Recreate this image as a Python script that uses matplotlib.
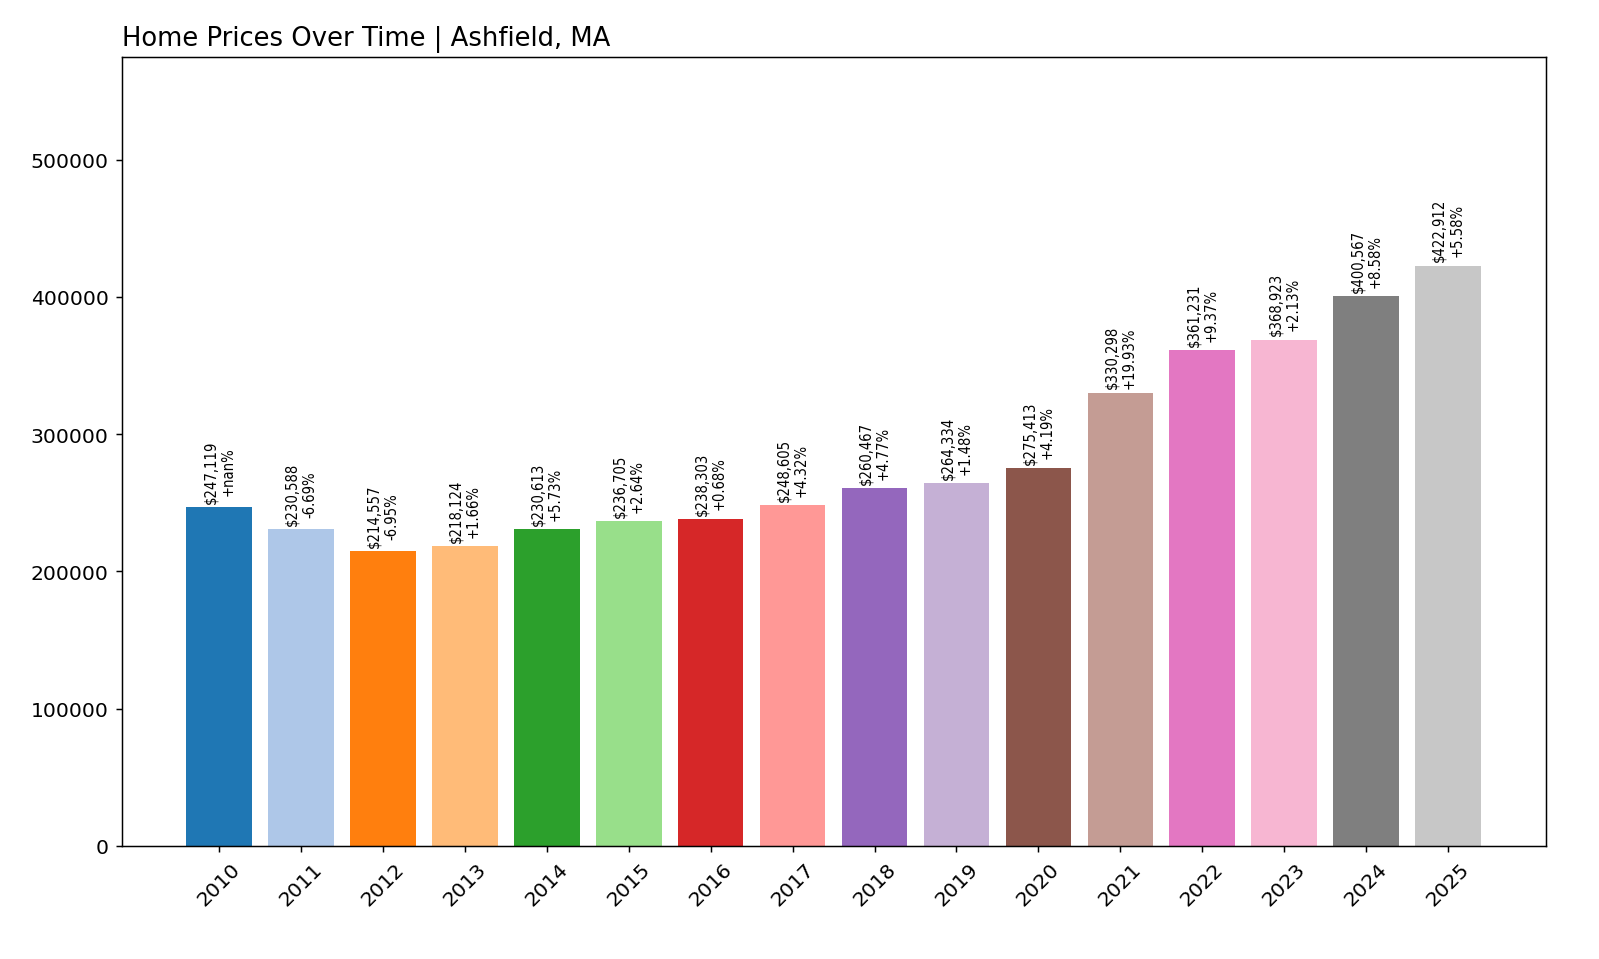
import matplotlib
matplotlib.use("Agg")
import matplotlib.pyplot as plt

years = [str(y) for y in range(2010, 2026)]
prices = [247119, 230588, 214557, 218124, 230613, 236705, 238303, 248605,
          260467, 264334, 275413, 330298, 361231, 368923, 400567, 422912]
changes = ["+nan%", "-6.69%", "-6.95%", "+1.66%", "+5.73%", "+2.64%", "+0.68%", "+4.32%",
           "+4.77%", "+1.48%", "+4.19%", "+19.93%", "+9.37%", "+2.13%", "+8.58%", "+5.58%"]

fig = plt.figure(figsize=(12, 7.2), dpi=133.33)
ax = fig.add_axes([0.076, 0.118, 0.890, 0.822])
colors = plt.cm.tab20.colors
x = range(len(years))
ax.bar(x, prices, color=[colors[i % 20] for i in x], width=0.8)
for i, (p, c) in enumerate(zip(prices, changes)):
    ax.text(i, p + 3000, f"${p:,}\n{c}", rotation=90, ha="center", va="bottom",
            fontsize=8, fontstretch="condensed")
ax.set_xticks(list(x))
ax.set_xticklabels(years, rotation=45, fontsize=11)
ax.tick_params(axis="y", labelsize=11)
ax.set_ylim(0, max(prices) * 1.36)
ax.set_title("Home Prices Over Time | Ashfield, MA", loc="left", fontsize=14)
fig.savefig("out.png", dpi=133.33)
